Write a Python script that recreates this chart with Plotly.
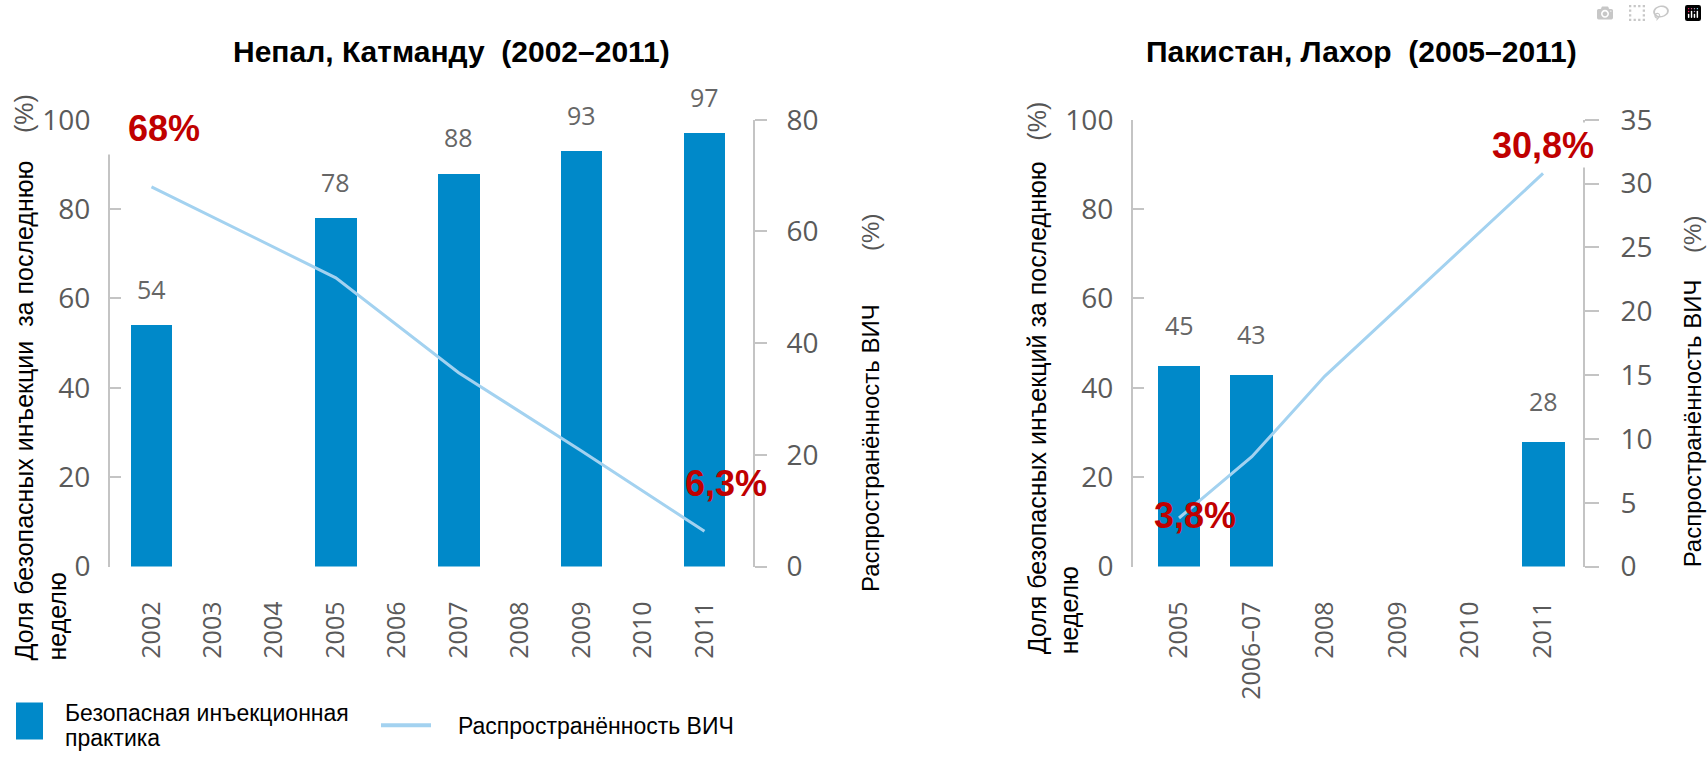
import plotly.graph_objects as go

W, H = 1707, 767

# ---------------- data ----------------
nepal_years = ['2002', '2003', '2004', '2005', '2006', '2007', '2008', '2009', '2010', '2011']
nepal_bar_years = ['2002', '2005', '2007', '2009', '2011']
nepal_safe = [54, 78, 88, 93, 97]
nepal_hiv_years = ['2002', '2005', '2007', '2009', '2011']
nepal_hiv = [68, 51.7, 34.7, 20.7, 6.3]

pak_years = ['2005', '2006–07', '2008', '2009', '2010', '2011']
pak_bar_years = ['2005', '2006–07', '2011']
pak_safe = [45, 43, 28]
pak_hiv_years = ['2005', '2006–07', '2008', '2011']
pak_hiv = [3.8, 8.6, 14.9, 30.8]

left_ticks = [0, 20, 40, 60, 80, 100]
nepal_right_ticks = [0, 20, 40, 60, 80]
pak_right_ticks = [0, 5, 10, 15, 20, 25, 30, 35]

title_nepal = 'Непал, Катманду\u00a0\u00a0(2002–2011)'
title_pak = 'Пакистан, Лахор\u00a0\u00a0(2005–2011)'
legend_bar = ['Безопасная инъекционная', 'практика']
legend_line = 'Распространённость ВИЧ'

# ---------------- styles ----------------
BLUE = '#0089C9'
LINE = '#A3D2F0'
AX = '#C4C4C4'
GREY = '#5A5A5A'
RED = '#C00000'
NUM_FONT = 'Open Sans'
TXT_FONT = 'Liberation Sans'


def px(x):
    return x / W


def py(y):
    return 1 - y / H


ydom = [py(575), py(105)]

fig = go.Figure()
fig.add_trace(go.Bar(x=nepal_bar_years, y=nepal_safe, xaxis='x', yaxis='y',
                     marker=dict(color=BLUE, line=dict(width=0)), width=0.68))
fig.add_trace(go.Scatter(x=nepal_hiv_years, y=nepal_hiv, xaxis='x', yaxis='y2',
                         mode='lines', line=dict(color=LINE, width=3)))
fig.add_trace(go.Bar(x=pak_bar_years, y=pak_safe, xaxis='x2', yaxis='y3',
                     marker=dict(color=BLUE, line=dict(width=0)), width=0.59))
fig.add_trace(go.Scatter(x=pak_hiv_years, y=pak_hiv, xaxis='x2', yaxis='y4',
                         mode='lines', line=dict(color=LINE, width=3)))

xcommon = dict(type='category', categoryorder='array', showline=False, showgrid=False,
               zeroline=False, ticks='', tickangle=-90, ticklabelstandoff=29,
               tickfont=dict(family=NUM_FONT, size=25, color=GREY), fixedrange=True)
ycommon = dict(showline=True, linecolor=AX, linewidth=2, showgrid=False, zeroline=False,
               tickwidth=2, tickcolor=AX, tickfont=dict(family=NUM_FONT, size=28, color=GREY),
               fixedrange=True)

fig.update_layout(
    width=W, height=H, autosize=False,
    margin=dict(l=0, r=0, t=0, b=0),
    paper_bgcolor='white', plot_bgcolor='white',
    showlegend=False, bargap=0,
    xaxis=dict(domain=[px(110), px(753)], anchor='y', categoryarray=nepal_years,
               range=[-0.675, 9.79], **xcommon),
    yaxis=dict(domain=ydom, anchor='x', range=[0, 100], tickvals=left_ticks,
               ticks='inside', ticklen=11, ticklabelstandoff=12, **ycommon),
    yaxis2=dict(overlaying='y', side='right', anchor='x', range=[0, 80], tickvals=nepal_right_ticks,
                ticks='outside', ticklen=12, ticklabelstandoff=14, **ycommon),
    xaxis2=dict(domain=[px(1133), px(1583)], anchor='y3', categoryarray=pak_years,
                range=[-0.632, 5.549], **xcommon),
    yaxis3=dict(domain=ydom, anchor='x2', range=[0, 100], tickvals=left_ticks,
                ticks='inside', ticklen=11, ticklabelstandoff=12, **ycommon),
    yaxis4=dict(overlaying='y3', side='right', anchor='x2', range=[0, 35], tickvals=pak_right_ticks,
                ticks='outside', ticklen=14, ticklabelstandoff=16, **ycommon),
)

ann = []
lab_font = dict(family=NUM_FONT, size=25, color='#666666')
# bar value labels (category axes: x given as category index)
for cat, v in zip(nepal_bar_years, nepal_safe):
    ann.append(dict(x=nepal_years.index(cat), y=v, xref='x', yref='y', text=str(v), showarrow=False,
                    xanchor='center', yanchor='middle', yshift=36, font=lab_font))
for cat, v in zip(pak_bar_years, pak_safe):
    ann.append(dict(x=pak_years.index(cat), y=v, xref='x2', yref='y3', text=str(v), showarrow=False,
                    xanchor='center', yanchor='middle', yshift=40, font=lab_font))


def pann(x, y, text, **kw):
    d = dict(x=px(x), y=py(y), xref='paper', yref='paper', text=text, showarrow=False,
             xanchor='center', yanchor='middle')
    d.update(kw)
    return d


# titles
title_font = dict(family=TXT_FONT, size=30, color='black')
ann.append(pann(452, 33, '<b>' + title_nepal + '</b>', font=title_font))
ann.append(pann(1361, 33, '<b>' + title_pak + '</b>', font=title_font))

pct = "<span style='color:#555555'>(%)</span>"
nb = '\u00a0'
ax_font = dict(family=TXT_FONT, size=25, color='black')
ax_font_r = dict(family=TXT_FONT, size=24, color='black')
# axis titles (rotated)
ann.append(pann(41, 676, 'Доля безопасных инъекции' + nb * 2 + 'за последнюю' + nb * 4 + pct + '<br>неделю',
                yanchor='bottom', textangle=-90, align='left', font=ax_font))
ann.append(pann(1053, 670, 'Доля безопасных инъекций за последнюю' + nb * 3 + pct + '<br>неделю',
                yanchor='bottom', textangle=-90, align='left', font=ax_font))
ann.append(pann(870, 604, 'Распространённость ВИЧ' + nb * 8 + pct,
                yanchor='bottom', textangle=-90, font=ax_font_r))
ann.append(pann(1692, 578, 'Распространённость ВИЧ' + nb * 4 + pct,
                yanchor='bottom', textangle=-90, font=ax_font_r))

# red callouts
red = dict(family=TXT_FONT, size=36, color=RED)
ann.append(pann(153, 114, '<b>68%</b>', width=94, height=52, align='right', bgcolor='white',
                borderpad=0, font=red))
ann.append(pann(726, 488, '<b>6,3%</b>', font=red))
ann.append(pann(1195, 521, '<b>3,8%</b>', font=red))
ann.append(pann(1543, 131, '<b>30,8%</b>', width=110, height=44, bgcolor='white', borderpad=0, font=red))

# legend texts
leg_font = dict(family=TXT_FONT, size=23, color='black')
ann.append(pann(63, 729, legend_bar[0], xanchor='left', font=leg_font))
ann.append(pann(63, 755, legend_bar[1], xanchor='left', font=leg_font))
ann.append(pann(456, 743, legend_line, xanchor='left', font=leg_font))

fig.update_layout(annotations=ann)

# legend swatches
fig.add_shape(type='rect', xref='paper', yref='paper', x0=px(16), x1=px(43), y0=py(757), y1=py(718),
              fillcolor=BLUE, line=dict(width=0))
fig.add_shape(type='line', xref='paper', yref='paper', x0=px(381), x1=px(431), y0=py(742), y1=py(742),
              line=dict(color=LINE, width=4))

fig.write_html("out.html", post_script="document.body.style.margin='0';document.body.style.overflow='hidden';")
